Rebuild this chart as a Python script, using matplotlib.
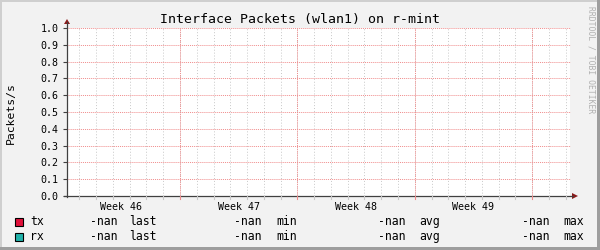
import numpy as np
import matplotlib
matplotlib.use("Agg")
import matplotlib.pyplot as plt
from matplotlib.patches import Rectangle, Polygon
from matplotlib.lines import Line2D

# data (the graph has no values: every sample is NaN)
days = np.arange(0, 31)
tx = np.full(days.shape, np.nan)
rx = np.full(days.shape, np.nan)

week_starts = [6.74, 13.74, 20.74, 27.74]
week_labels = ['Week 46', 'Week 47', 'Week 48', 'Week 49']
series_names = ['tx', 'rx']
series_colors = ['#E0103A', '#20B2AA']
legend_stats = ['last', 'min', 'avg', 'max']
legend_values = {'tx': ['-nan', '-nan', '-nan', '-nan'],
                 'rx': ['-nan', '-nan', '-nan', '-nan']}

W, H = 600, 250
mono = 'DejaVu Sans Mono'

fig = plt.figure(figsize=(6, 2.5), dpi=100, facecolor='#F2F2F2')

def px(x, y):
    return x / W, 1 - y / H

# plot area in pixels
x0, x1, y0, y1 = 67, 570, 28, 196
ax = fig.add_axes([x0 / W, 1 - y1 / H, (x1 - x0) / W, (y1 - y0) / H])
ax.set_facecolor('white')
for s in ax.spines.values():
    s.set_visible(False)

ax.plot(days, tx, color=series_colors[0])
ax.plot(days, rx, color=series_colors[1])
ax.set_xlim(0, 30)
ax.set_ylim(0, 1.0)

# grid
for d in np.arange(week_starts[0] - 7, 31, 1.0):
    if 0 < d < 30:
        ax.axvline(d, color='#C8C8C8', lw=0.7, ls=(0, (1, 2)), zorder=1)
for w in week_starts:
    ax.axvline(w, color='#F08C8C', lw=0.7, ls=(0, (1, 1)), zorder=2)
yt = np.round(np.arange(0.1, 1.01, 0.1), 1)
for v in yt:
    ax.axhline(v, color='#F08C8C', lw=0.7, ls=(0, (1, 1)), zorder=2, clip_on=False, xmax=1.0)

ax.set_xticks([w - 3.5 for w in week_starts])
ax.set_xticklabels(week_labels, fontfamily=mono, fontsize=7.2)
ax.set_yticks(np.round(np.arange(0, 1.01, 0.1), 1))
ax.set_yticklabels(['%.1f' % v for v in np.arange(0, 1.01, 0.1)], fontfamily=mono, fontsize=7.2)
ax.tick_params(axis='x', length=0, pad=4)
ax.tick_params(axis='y', length=3, width=0.8, color='#404040', pad=3)

# axis lines with arrows
fig.add_artist(Line2D([x0 / W, x0 / W], [1 - (y1 + 1) / H, 1 - 22 / H], transform=fig.transFigure,
                      color='#404040', lw=0.9))
fig.add_artist(Line2D([(x0 - 3) / W, 573 / W], [1 - y1 / H, 1 - y1 / H], transform=fig.transFigure,
                      color='#404040', lw=0.9))
fig.add_artist(Polygon([px(64, 24), px(70, 24), px(67, 19)], closed=True, transform=fig.transFigure,
                       facecolor='#8B1A1A', edgecolor='none'))
fig.add_artist(Polygon([px(572, 193), px(572, 199), px(578, 196)], closed=True, transform=fig.transFigure,
                       facecolor='#8B1A1A', edgecolor='none'))
# tick stubs below x axis
for d in np.arange(week_starts[0] - 7, 31, 1.0):
    if 0 < d < 30:
        xp = x0 + d / 30 * (x1 - x0)
        col = '#F08C8C' if any(abs(d - w) < 1e-6 for w in week_starts) else '#C8C8C8'
        fig.add_artist(Line2D([xp / W, xp / W], [1 - 196 / H, 1 - 199 / H], transform=fig.transFigure,
                              color=col, lw=0.8))

# title and labels
fig.text(*px(300, 19), 'Interface Packets (wlan1) on r-mint', ha='center', va='center',
         fontfamily=mono, fontsize=9.5, color='#000000')
fig.text(*px(11, 113), 'Packets/s', rotation=90, ha='center', va='center',
         fontfamily=mono, fontsize=8.2)
fig.text(*px(591, 60), 'RRDTOOL / TOBI OETIKER', rotation=270, ha='center', va='center',
         fontfamily=mono, fontsize=5.8, color='#B0B0B0')

# legend
rows_y = [221.5, 236.5]
val_x = [118, 262, 406, 550]
stat_x = [129, 276, 419, 563]
for name, color, yy in zip(series_names, series_colors, rows_y):
    fig.add_artist(Rectangle(px(15, yy + 4), 8 / W, 8 / H, transform=fig.transFigure,
                             facecolor=color, edgecolor='black', lw=0.8))
    fig.text(*px(30, yy), name, ha='left', va='center', fontfamily=mono, fontsize=8.3)
    for v, vx, st, sx in zip(legend_values[name], val_x, legend_stats, stat_x):
        fig.text(*px(vx, yy), v, ha='right', va='center', fontfamily=mono, fontsize=8.3)
        fig.text(*px(sx, yy), st, ha='left', va='center', fontfamily=mono, fontsize=8.3)

# 3d frame
fig.add_artist(Rectangle((0, 1 - 2 / H), 1, 2 / H, transform=fig.transFigure, facecolor='#CFCFCF', edgecolor='none'))
fig.add_artist(Rectangle((0, 0), 2 / W, 1, transform=fig.transFigure, facecolor='#CFCFCF', edgecolor='none'))
fig.add_artist(Rectangle((0, 0), 1, 3 / H, transform=fig.transFigure, facecolor='#9E9E9E', edgecolor='none'))
fig.add_artist(Rectangle((1 - 3 / W, 0), 3 / W, 1, transform=fig.transFigure, facecolor='#9E9E9E', edgecolor='none'))

fig.savefig('out.png', dpi=100, facecolor=fig.get_facecolor())
